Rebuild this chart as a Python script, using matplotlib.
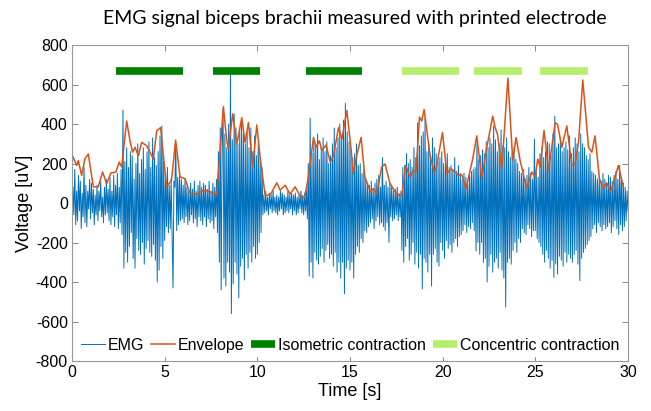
import numpy as np
import matplotlib
matplotlib.use("Agg")
import matplotlib.pyplot as plt

# ---------------- data ----------------
# EMG samples every 0.05 s (one row per second)
emg = [
    -150, 80, -60, 170, -110, 60, -90, 140, -40, 110, -130, 50, -70, 180, -100, 90, -120, 60, -30, 120,
    -80, 100, -50, 70, -110, 40, -60, 90, -90, 60, -40, 110, -70, 30, -100, 80, -60, 120, -50, 70,
    -90, 130, -110, 60, -70, 140, -120, 90, -60, 150, -130, 80, -100, 170, -160, 470, -330, 210, -250, 280,
    -300, 180, -220, 260, -150, 240, -280, 120, -330, 200, -180, 300, -240, 150, -260, 220, -200, 280, -310, 170,
    -230, 260, -190, 310, -250, 180, -270, 330, -210, 230, -290, 190, -400, 260, -340, 340, -220, 390, -280, 210,
    -190, 150, -120, 180, -150, 90, -130, 120, -170, -430, 110, 80, 300, -140, 130, -110, 140, -90, 120, -80,
    90, -100, 120, -70, 80, -110, 60, -90, 100, -60, 70, -100, 110, -80, 60, -120, 90, -70, 110, -90,
    80, -110, 100, -70, 90, -120, 70, -80, 110, -100, 60, -90, 100, -130, 80, -70, 120, -150, 260, -300,
    380, -440, 300, 480, -380, 350, -420, 280, -300, 400, -350, 655, -560, 320, -410, 450, -300, 380, -360, 300,
    -480, 370, -320, 420, -280, 350, -390, 300, -260, 360, -330, 280, -250, 380, -300, 260, -220, 340, -280, 240,
    -260, 300, -200, 230, -150, 180, -60, 40, -50, 60, -40, 30, -60, 50, -30, 40, -50, 60, -40, 30,
    -50, 40, -60, 30, -40, 60, -30, 50, -60, 40, -50, 30, -40, 60, -50, 40, -30, 50, -60, 40,
    -40, 50, -60, 30, -50, 40, -30, 60, -50, 40, -60, 50, -40, 60, -80, 200, -370, 430, -300, 250,
    -380, 320, -250, 300, -290, 350, -310, 220, -270, 280, -230, 330, -300, 260, -240, 310, -210, 200, -280, 240,
    -260, 300, -320, 380, -250, 280, -350, 330, -300, 400, -380, 340, -300, 420, -460, 505, -330, 360, -290, 310,
    -340, 280, -300, 230, -380, 250, -260, 300, -220, 190, -250, 200, -180, 150, -200, 170, -140, 120, -150, 100,
    -120, 90, -100, 110, -80, 70, -130, 100, -90, 120, -70, 140, -110, 80, -100, 230, -120, 90, -140, 110,
    -100, 80, -200, 100, -70, 90, -90, 60, -80, 70, -60, 80, -90, 50, -70, 60, -240, 180, -300, 190,
    -220, 250, -180, 200, -290, 220, -260, 180, -200, 280, -310, 230, -250, 407, -330, 290, -260, 340, -435, 360,
    -280, 430, -300, 260, -350, 300, -260, 240, -420, 330, -260, 280, -230, 250, -300, 210, -320, 230, -200, 260,
    -240, 200, -280, 220, -190, 250, -230, 180, -210, 190, -250, 170, -200, 230, -180, 160, -220, 190, -170, 150,
    -160, 120, -140, 150, -110, 130, -150, 100, -120, 140, -130, 160, -100, 170, -140, 180, -243, 300, -200, 220,
    -260, 240, -200, 270, -300, 250, -280, 310, -400, 280, -320, 330, -260, 300, -350, 390, -300, 320, -280, 260,
    -330, 300, -250, 370, -340, 290, -380, 280, -527, 330, -300, 260, -280, 230, -310, 250, -240, 280, -200, 220,
    -250, 200, -180, 160, -200, 150, -130, 170, -150, 120, -160, 140, -110, 180, -130, 150, -170, 120, -140, 323,
    -140, 160, -180, 130, -200, 250, -220, 280, -260, 230, -300, 260, -240, 310, -280, 300, -330, 240, -290, 350,
    -377, 440, -310, 280, -360, 300, -270, 330, -290, 260, -320, 280, -250, 310, -300, 270, -260, 340, -280, 250,
    -300, 280, -260, 330, -240, 300, -310, 260, -393, 350, -280, 300, -250, 280, -230, 240, -210, 220, -190, 250,
    -170, 160, -130, 150, -110, 140, -150, 120, -100, 130, -120, 110, -140, 150, -110, 120, -130, 100, -120, 140,
    -100, 130, -150, 110, -120, 140, -90, 160, -130, 120, -160, 190, -110, 130, -140, 100, -120, 80, -90, 60,
    -40,
]
emg_dt = 0.05  # sampling interval [s]

env_t = [0.0, 0.25, 0.34, 0.52, 0.70, 0.88, 1.15, 1.42, 1.65, 1.87, 2.1, 2.37, 2.55, 2.68, 2.95, 3.13,
         3.27, 3.4, 3.58, 3.76, 4.03, 4.39, 4.57, 4.78, 5.1, 5.37, 5.59, 5.83, 6.1, 6.37, 6.73, 7.09,
         7.45, 7.81, 7.99, 8.17, 8.35, 8.44, 8.67, 8.89, 9.16, 9.34, 9.52, 9.75, 9.97, 10.15, 10.42,
         10.69, 11.05, 11.23, 11.5, 11.77, 12.04, 12.31, 12.55, 12.76, 13.03, 13.17, 13.35, 13.48,
         13.71, 13.93, 14.11, 14.38, 14.56, 14.83, 15.01, 15.18, 15.36, 15.6, 15.8, 16.1, 16.26, 16.44,
         16.71, 16.89, 17.16, 17.52, 17.79, 18.0, 18.24, 18.42, 18.56, 18.75, 18.87, 19.0, 19.32, 19.55,
         19.68, 19.99, 20.23, 20.45, 20.67, 20.85, 21.03, 21.26, 21.62, 21.84, 22.11, 22.38, 22.70,
         22.83, 22.96, 23.19, 23.52, 23.78, 23.96, 24.18, 24.54, 24.81, 24.99, 25.13, 25.26, 25.47,
         25.71, 26.07, 26.2, 26.43, 26.7, 26.97, 27.15, 27.33, 27.56, 27.87, 28.05, 28.22, 28.46,
         28.67, 28.85, 29.07, 29.48, 29.75]
env_v = [245, 190, 215, 140, 225, 248, 82, 82, 157, 98, 152, 157, 207, 182, 415, 315,
         257, 282, 240, 307, 290, 223, 365, 382, 82, 115, 318, 132, 123, 48, 45, 65,
         57, 40, 265, 487, 315, 273, 452, 298, 432, 307, 407, 182, 395, 232, 40,
         40, 102, 65, 90, 45, 82, 35, 28, 132, 332, 282, 315, 265,
         293, 207, 240, 382, 323, 468, 315, 148, 240, 332, 132, 57, 73, 45,
         182, 198, 98, 45, 35, 190, 132, 165, 157, 435, 415, 473, 240, 152,
         190, 357, 148, 173, 157, 140, 143, 73, 223, 340, 123, 282, 440,
         382, 348, 173, 632, 215, 332, 215, 73, 157, 132, 223, 182, 368,
         165, 407, 398, 282, 390, 190, 198, 307, 623, 282, 257, 340, 123,
         73, 102, 57, 190, 82]

iso_start = [2.35, 7.6, 12.6]
iso_end = [6.0, 10.15, 15.65]
con_start = [17.8, 21.7, 25.25]
con_end = [20.9, 24.3, 27.85]
bar_level = 670

xticks = [0, 5, 10, 15, 20, 25, 30]
yticks = [-800, -600, -400, -200, 0, 200, 400, 600, 800]

# ---------------- plot ----------------
plt.rcParams['font.family'] = ['Liberation Sans', 'DejaVu Sans']
plt.rcParams['axes.unicode_minus'] = False

fig = plt.figure(figsize=(6.51, 4.11), dpi=100)
ax = fig.add_axes([72/651, 1 - 361/411, 556/651, 316/411])

t = np.arange(len(emg)) * emg_dt
ax.plot(t, emg, color='#0072BD', lw=0.7, label='EMG')
ax.plot(env_t, env_v, color='#D95319', lw=1.1, label='Envelope')

for i, (s, e) in enumerate(zip(iso_start, iso_end)):
    ax.plot([s, e], [bar_level, bar_level], color='#008000', lw=5.5,
            solid_capstyle='butt', label='Isometric contraction' if i == 0 else None)
for i, (s, e) in enumerate(zip(con_start, con_end)):
    ax.plot([s, e], [bar_level, bar_level], color='#B6EE6E', lw=5.5,
            solid_capstyle='butt', label='Concentric contraction' if i == 0 else None)

ax.set_xlim(0, 30)
ax.set_ylim(-800, 800)
ax.set_xticks(xticks)
ax.set_yticks(yticks)
ax.tick_params(direction='in', top=True, right=True, labelsize=11.5, length=4,
               color='#888888', width=0.7, pad=3)
for sp in ax.spines.values():
    sp.set_color('#999999')
    sp.set_linewidth(0.8)

ax.set_xlabel('Time [s]', fontsize=13, labelpad=2)
ax.set_ylabel('Voltage [uV]', fontsize=13, labelpad=2)
fig.text(0.545, 0.955, 'EMG signal biceps brachii measured with printed electrode',
         ha='center', va='center', fontsize=14, family=['Lato', 'DejaVu Sans'])

leg = ax.legend(loc='lower center', ncol=4, frameon=True, fontsize=11.5,
                handlelength=1.5, handletextpad=0.2, columnspacing=0.4,
                borderaxespad=0.3, borderpad=0.2)
leg.get_frame().set_edgecolor('white')
leg.get_frame().set_facecolor('white')
leg.get_frame().set_alpha(1.0)

fig.savefig('out.png', dpi=100)
